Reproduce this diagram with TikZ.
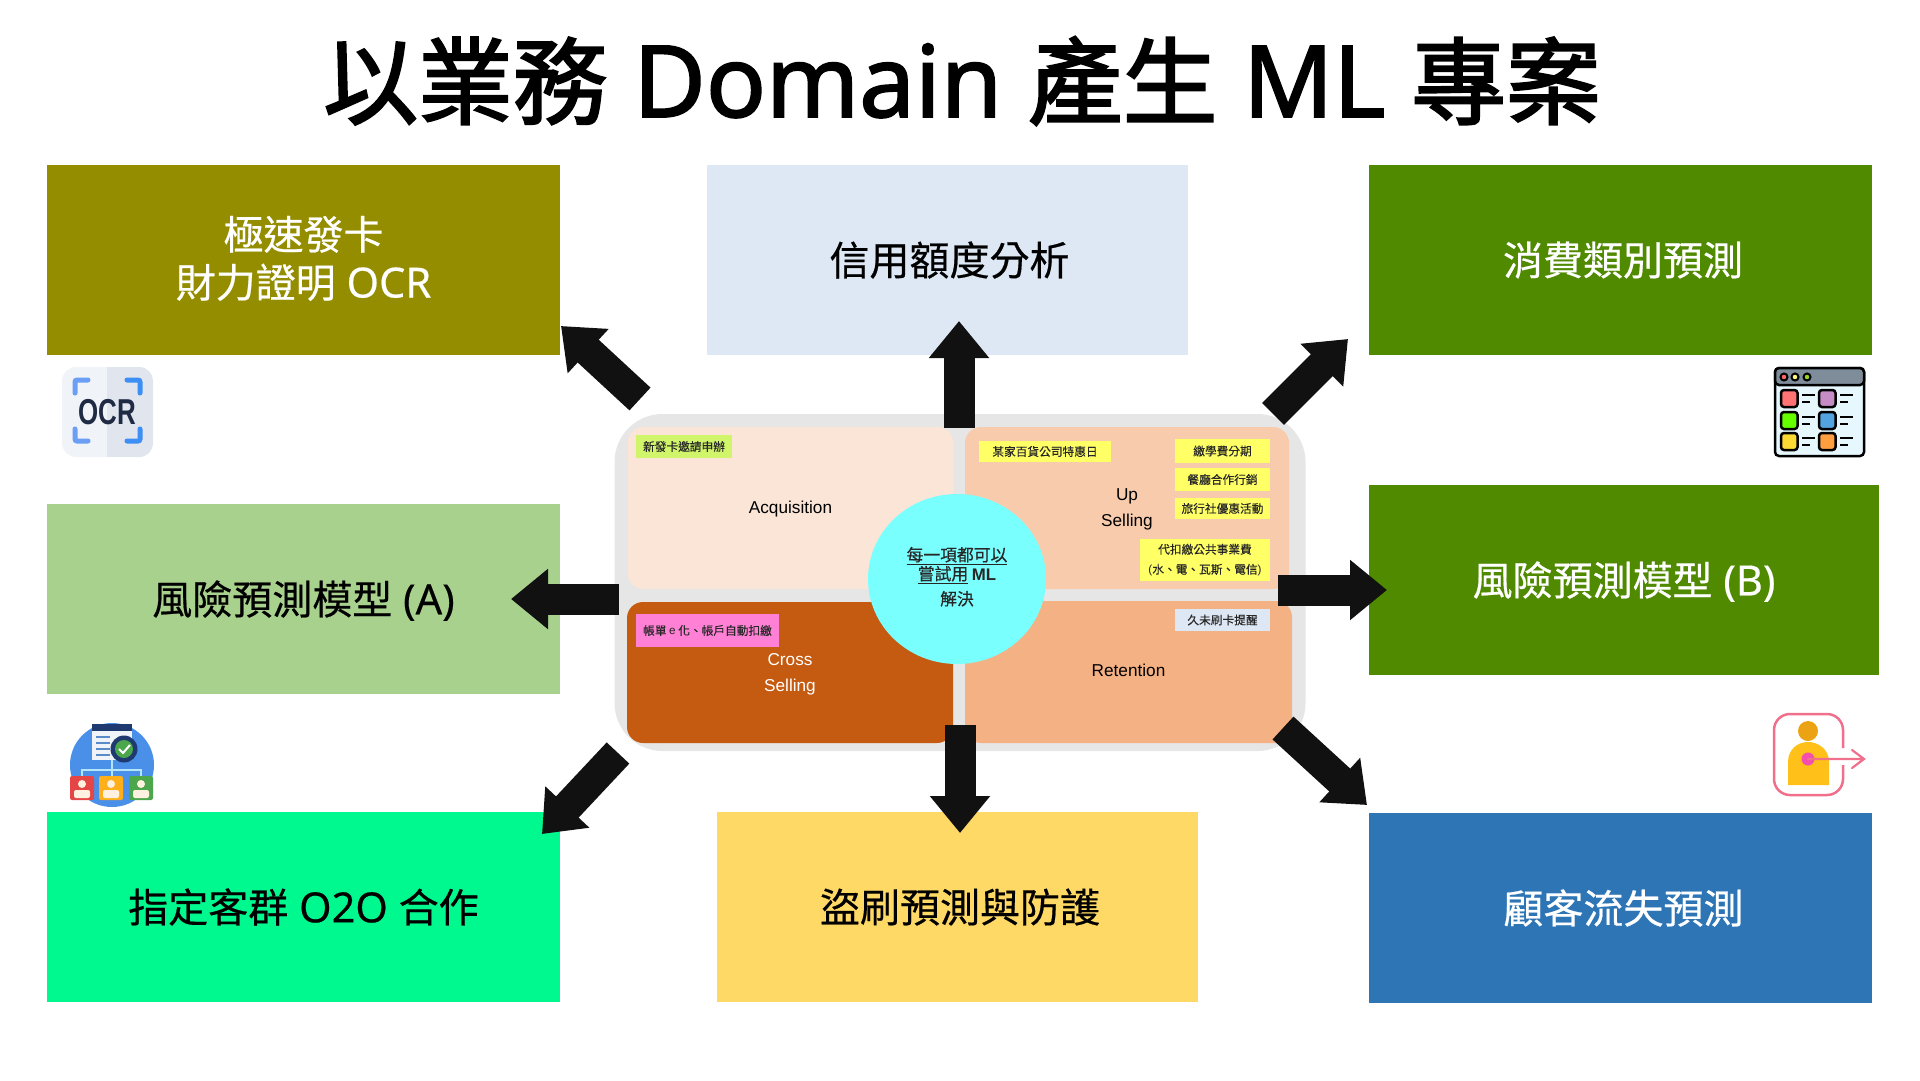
\documentclass[tikz,border=0pt]{standalone}
\usepackage{fontspec}
\setmainfont{Noto Sans}[Scale=1.04, FakeBold=0.4]
\newfontfamily\cjk[FakeBold=0.5]{Noto Sans CJK TC}
\newfontfamily\cjkthin[FakeBold=0.15]{Noto Sans CJK TC}
\newfontfamily\cjkheavy[FakeBold=2.2]{Noto Sans CJK TC}
\newfontfamily\latheavy[Scale=1.05, FakeBold=1.8]{Noto Sans}
\newfontfamily\arialfont{Liberation Sans}
\usetikzlibrary{arrows.meta, shapes.geometric}
\definecolor{colOlive}{HTML}{948D00}
\definecolor{colSky}{HTML}{DEE8F5}
\definecolor{colGreen}{HTML}{4F8A00}
\definecolor{colLeaf}{HTML}{A9D18E}
\definecolor{colSpring}{HTML}{00F98F}
\definecolor{colSun}{HTML}{FFD966}
\definecolor{colBlue}{HTML}{2E75B6}
\definecolor{colPanel}{HTML}{E6E6E6}
\definecolor{colAcq}{HTML}{FBE5D6}
\definecolor{colUp}{HTML}{F8CBAD}
\definecolor{colCross}{HTML}{C55A11}
\definecolor{colRet}{HTML}{F4B183}
\definecolor{colCyan}{HTML}{7AFFFF}
\definecolor{colTagY}{HTML}{FFFF66}
\definecolor{colTagG}{HTML}{D0F46A}
\definecolor{colTagP}{HTML}{FF80D5}
\definecolor{colInk}{HTML}{111111}
\definecolor{colRose}{HTML}{F0708C}
\definecolor{colIconL}{HTML}{F0F3F8}
\definecolor{colIconR}{HTML}{E0E5EE}
\definecolor{colBraceL}{HTML}{6A9FF5}
\definecolor{colBraceR}{HTML}{3D8FF5}
\definecolor{colNavy}{HTML}{1F2A44}
\definecolor{colTeam}{HTML}{4A90E8}
\definecolor{colTeamD}{HTML}{1F3A70}
\definecolor{colBar}{HTML}{7F8C9A}
\tikzset{
  every picture/.style={x=1pt, y=-1pt},
  box/.style={fill=#1, inner sep=0pt, align=center, font=\fontsize{40}{48}\selectfont},
  quad/.style={fill=#1, rounded corners=16pt, inner sep=0pt, align=center, font=\arialfont\fontsize{17.2}{26}\selectfont},
  tag/.style={fill=#1, inner sep=0pt, align=center, text=black!85, font=\cjkthin\fontsize{11.7}{20}\selectfont},
  tag/.default=colTagY,
  blockarrow/.style={-{Triangle[length=37pt, width=58pt]}, draw=colInk, line width=31pt},
}
\newcommand{\zh}[1]{{\cjk #1}}
\begin{document}
\begin{tikzpicture}
  \useasboundingbox (0,0) rectangle (1920,1080);
  \node[font=\fontsize{94.8}{100}\selectfont] (title) at (962,81)
    {{\cjkheavy 以業務} {\latheavy Domain} {\cjkheavy 產生} {\latheavy ML} {\cjkheavy 專案}};
  % outer boxes
  \node[box=colOlive, text=white, text depth=6.6pt, minimum width=513pt, minimum height=190pt] (ocr) at (303.5,260) {\zh{極速發卡}\\\zh{財力證明} OCR};
  \node[box=colSky, minimum width=481pt, minimum height=190pt] (credit) at (947.5,260) {\hspace*{4pt}\zh{信用額度分析}};
  \node[box=colGreen, text=white, minimum width=503pt, minimum height=190pt] (spend) at (1620.5,260) {\hspace*{5pt}\zh{消費類別預測}};
  \node[box=colLeaf, minimum width=513pt, minimum height=190pt] (riska) at (303.5,599) {\zh{風險預測模型} \smash{(A)}};
  \node[box=colGreen, text=white, minimum width=510pt, minimum height=190pt] (riskb) at (1624,580) {\zh{風險預測模型} \smash{(B)}};
  \node[box=colSpring, minimum width=513pt, minimum height=190pt] (otwoo) at (303.5,907) {\zh{指定客群} O2O \zh{合作}};
  \node[box=colSun, minimum width=481pt, minimum height=190pt] (fraud) at (957.5,907) {\hspace*{5pt}\zh{盜刷預測與防護}};
  \node[box=colBlue, text=white, minimum width=503pt, minimum height=190pt] (churn) at (1620.5,908) {\hspace*{6pt}\zh{顧客流失預測}};
  % centre panel
  \node[fill=colPanel, rounded corners=48pt, minimum width=691pt, minimum height=337pt] (panel) at (960,582.5) {};
  \node[quad=colAcq, text depth=1.6pt, minimum width=326pt, minimum height=162pt] (acq) at (790.5,508) {Acquisition};
  \node[quad=colUp, text depth=1.2pt, minimum width=324pt, minimum height=162pt] (upsell) at (1127,508) {Up\\Selling};
  \node[quad=colCross, text=white, text depth=0pt, minimum width=326pt, minimum height=141pt] (cross) at (790,672.5) {Cross\\Selling};
  \node[quad=colRet, text depth=2.5pt, minimum width=327pt, minimum height=142pt] (ret) at (1128.5,672) {Retention};
  \node[tag=colTagG, minimum width=96pt, minimum height=23pt] (newcard) at (684,446.5) {新發卡邀請申辦};
  \node[tag, minimum width=132pt, minimum height=21pt] (store) at (1045,451.5) {某家百貨公司特惠日};
  \node[tag, minimum width=95pt, minimum height=24pt] (tuition) at (1222.5,451) {繳學費分期};
  \node[tag, minimum width=95pt, minimum height=23pt] (dining) at (1222.5,479.5) {餐廳合作行銷};
  \node[tag, minimum width=95pt, minimum height=21pt] (travel) at (1222.5,508.5) {旅行社優惠活動};
  \node[tag, minimum width=130pt, minimum height=42pt] (utility) at (1205,560) {代扣繳公共事業費\\{\arialfont(}水、電、瓦斯、電信{\arialfont)}};
  \node[tag=colSky, minimum width=95pt, minimum height=22pt] (remind) at (1222.5,620) {久未刷卡提醒};
  \node[tag=colTagP, minimum width=143pt, minimum height=33pt] (bill) at (707.5,630.5) {帳單 {\arialfont e} 化、帳戶自動扣繳};
  % arrows
  \coordinate (tailocr) at (640,399);     \coordinate (tipocr) at (561,326);
  \coordinate (tailcredit) at (959,428);  \coordinate (tipcredit) at (959,321);
  \coordinate (tailspend) at (1273,414);  \coordinate (tipspend) at (1348,339);
  \coordinate (tailriska) at (619,599);   \coordinate (tipriska) at (511,599);
  \coordinate (tailriskb) at (1278,590);  \coordinate (tipriskb) at (1387,590);
  \coordinate (tailotwoo) at (618,753);   \coordinate (tipotwoo) at (542,834);
  \coordinate (tailfraud) at (960,725);   \coordinate (tipfraud) at (960,833);
  \coordinate (tailchurn) at (1283,728);  \coordinate (tipchurn) at (1367,805);
  \foreach \n in {ocr,credit,spend,riska,riskb,otwoo,fraud,churn}
    \draw[blockarrow] (tail\n) -- (tip\n);
  \node[ellipse, fill=colCyan, minimum width=178pt, minimum height=170pt, inner sep=0pt, align=center,
    text=black!85, text depth=6pt, font=\cjk\fontsize{16.8}{19}\selectfont] (hub) at (957,579)
    {\underline{每一項都可以}\\\underline{嘗試用} {\arialfont\bfseries ML}\\[6pt]解決};
  % OCR icon
  \fill[rounded corners=14pt, fill=colIconL] (62,367) rectangle (153,457);
  \begin{scope}
    \clip[rounded corners=14pt] (62,367) rectangle (153,457);
    \fill[colIconR] (107,367) rectangle (153,457);
  \end{scope}
  \begin{scope}[line width=5pt, line cap=round, rounded corners=2pt]
    \draw[colBraceL] (88,380) -- (75,380) -- (75,393);
    \draw[colBraceL] (75,429) -- (75,441) -- (88,441);
    \draw[colBraceR] (127,380) -- (140,380) -- (140,393);
    \draw[colBraceR] (140,429) -- (140,441) -- (127,441);
  \end{scope}
  \node[font=\arialfont\bfseries\fontsize{36}{36}\selectfont, text=colNavy, inner sep=0pt] (ocrword) at (107.5,412) {\scalebox{0.72}[1]{OCR}};
  % window icon
  \draw[line width=2.5pt, rounded corners=4pt, fill=cyan!10] (1775,368) rectangle (1864,456);
  \draw[line width=2.5pt, fill=colBar, rounded corners=4pt] (1775,385) -- (1775,368) -- (1864,368) -- (1864,385) -- cycle;
  \foreach \dx/\dc in {1784/red!60, 1795/yellow!50, 1807/yellow!60!green} \draw[line width=2pt, fill=\dc] (\dx,377) circle (3.5);
  \foreach \sx/\sy/\sc in {1781/390/red!55!white, 1819/390/violet!45!white, 1781/412/green!60!yellow, 1819/412/cyan!70!blue!70!white, 1781/433/yellow!70!orange!80!white, 1819/433/orange!75!white}
  {
    \draw[line width=2.5pt, rounded corners=3pt, fill=\sc] (\sx,\sy) rectangle +(16.5,17);
    \draw[line width=2pt] (\sx+21,\sy+5) -- +(13,0) (\sx+21,\sy+12) -- +(8,0);
  }
  % team icon
  \fill[colTeam] (112,765) circle (42);
  \draw[line width=1.5pt, cyan!30!white] (112,760) -- (112,776) (82,776) -- (82,770) -- (141,770) -- (141,776);
  \fill[colIconL] (92,730) rectangle (132,760);
  \fill[colTeamD] (92,724) rectangle (132,731);
  \foreach \ly in {736,742,748,754} \fill[colTeam!70!gray] (96,\ly) rectangle +(14,2);
  \fill[colTeamD] (124,749) circle (13.5);
  \fill[green!50!black!70!white] (124,749) circle (9);
  \draw[white, line width=2pt] (119,749) -- (123,753) -- (130,745);
  \foreach \px/\pc in {70/red!70!white!90!black, 99/orange!70!yellow!90!white, 129/green!50!black!70!white}
  {
    \fill[rounded corners=2pt, \pc] (\px,776) rectangle +(24,24);
    \fill[white!88!orange] (\px+12,784) circle (4);
    \fill[white!88!orange, rounded corners=2pt] (\px+4,798) rectangle (\px+20,790);
  }
  % exit icon
  \draw[colRose, line width=2.5pt, rounded corners=16pt] (1843,748) -- (1843,714) -- (1774,714) -- (1774,795) -- (1843,795) -- (1843,765);
  \fill[orange!60!yellow!70!brown] (1808,731) circle (10);
  \fill[orange!55!yellow!90!white] (1788,785) -- (1788,762) .. controls (1788,749) and (1798,742) .. (1808,742) .. controls (1818,742) and (1829,749) .. (1829,762) -- (1829,785) -- cycle;
  \fill[colRose!70!magenta] (1808,759) circle (6.5);
  \draw[colRose, line width=2.2pt, line cap=round] (1808,759) -- (1864,759) (1852,750) -- (1864,759) -- (1852,768);
\end{tikzpicture}
\end{document}
